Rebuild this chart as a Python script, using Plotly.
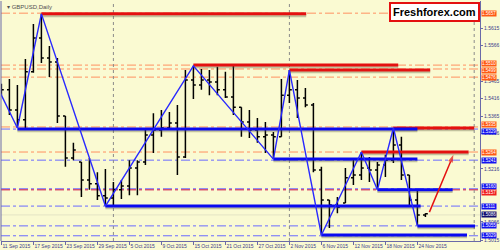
import plotly.graph_objects as go

# ---------------- data ----------------
bar_idx = list(range(54))
opens = [1.5434,1.5440,1.5383,1.5355,1.5491,1.5587,1.5530,1.5519,1.5366,1.5247,
         1.5236,1.5185,1.5174,1.5140,1.5134,1.5157,1.5168,1.5219,1.5236,1.5312,
         1.5326,1.5332,1.5346,1.5250,1.5468,1.5454,1.5468,1.5462,1.5440,1.5420,
         1.5391,1.5349,1.5326,1.5307,1.5312,1.5307,1.5425,1.5440,1.5417,1.5397,
         1.5213,1.5128,1.5114,1.5120,1.5191,1.5199,1.5219,1.5213,1.5227,1.5241,
         1.5284,1.5199,1.5128,1.5086]
highs = [1.5457,1.5471,1.5454,1.5527,1.5626,1.5655,1.5564,1.5530,1.5366,1.5290,
         1.5236,1.5247,1.5207,1.5216,1.5179,1.5185,1.5241,1.5241,1.5326,1.5374,
         1.5383,1.5377,1.5397,1.5496,1.5508,1.5499,1.5496,1.5505,1.5491,1.5508,
         1.5391,1.5383,1.5360,1.5349,1.5321,1.5471,1.5496,1.5468,1.5445,1.5403,
         1.5222,1.5128,1.5137,1.5219,1.5247,1.5264,1.5250,1.5236,1.5256,1.5329,
         1.5307,1.5199,1.5157,1.5091]
lows = [1.5423,1.5369,1.5332,1.5332,1.5488,1.5516,1.5476,1.5346,1.5222,1.5241,
        1.5137,1.5157,1.5128,1.5111,1.5111,1.5131,1.5142,1.5142,1.5227,1.5261,
        1.5307,1.5326,1.5199,1.5247,1.5414,1.5440,1.5425,1.5425,1.5417,1.5369,
        1.5307,1.5304,1.5290,1.5261,1.5244,1.5307,1.5403,1.5360,1.5391,1.5207,
        1.5029,1.5049,1.5091,1.5120,1.5171,1.5185,1.5179,1.5157,1.5193,1.5233,
        1.5185,1.5114,1.5057,1.5080]
closes = [1.5440,1.5383,1.5355,1.5491,1.5587,1.5530,1.5519,1.5366,1.5247,1.5270,
          1.5185,1.5174,1.5140,1.5134,1.5157,1.5168,1.5219,1.5236,1.5312,1.5326,
          1.5332,1.5346,1.5250,1.5468,1.5454,1.5468,1.5462,1.5440,1.5420,1.5391,
          1.5349,1.5326,1.5307,1.5312,1.5307,1.5425,1.5440,1.5417,1.5397,1.5213,
          1.5128,1.5114,1.5108,1.5191,1.5199,1.5219,1.5213,1.5227,1.5241,1.5284,
          1.5199,1.5128,1.5086,1.5089]

date_tick_idx = [0,4,8,12,16,20,24,28,32,36,40,44,48,52]
date_tick_text = ["11 Sep 2015","17 Sep 2015","23 Sep 2015","29 Sep 2015","5 Oct 2015",
                  "9 Oct 2015","15 Oct 2015","21 Oct 2015","27 Oct 2015","2 Nov 2015",
                  "6 Nov 2015","12 Nov 2015","18 Nov 2015","24 Nov 2015"]

price_ticks = [1.5615,1.5566,1.5465,1.5416,1.5365,1.5316,1.5216,1.5066,1.5015]
price_tick_text = ["1.5615","1.5566","1.5465","1.5416","1.5365","1.5316","1.5216","1.5066","1.5015"]

zz_idx = [-1, 2, 5, 13, 24, 34, 36, 40, 45, 47, 49, 52]
zz_price = [1.5471, 1.5332, 1.5655, 1.5111, 1.5508, 1.5244, 1.5496, 1.5029, 1.5264, 1.5157, 1.5332, 1.5055]

red_start = [5, 24, 36, 45, 49]
red_end = [38.1, 49.6, 53.6, 58.4, 59.1]
red_level = [1.5655, 1.5510, 1.5496, 1.5264, 1.5332]

blue_start = [2, 13, 34, 40, 47, 52]
blue_end = [52, 52.4, 52, 58.2, 56.4, 59.2]
blue_level = [1.5329, 1.5111, 1.5244, 1.5029, 1.5157, 1.5055]

orange_dd = [1.5657, 1.5510, 1.5499, 1.5476, 1.5335, 1.5264]
blue_dd = [1.5329, 1.5241, 1.5160, 1.5111, 1.5055, 1.5027]
red_dd = [1.5157]
gray_solid = [1.5086]

month_sep = [14, 36, 59.1]

label_price = [1.5657, 1.5510, 1.5499, 1.5476, 1.5335, 1.5329, 1.5264, 1.5241,
               1.5160, 1.5157, 1.5111, 1.5086, 1.5055, 1.5029]
label_color = ["#ff5a14", "#ff5a14", "#ff5a14", "#ff5a14", "#ff5a14", "#1414f0", "#ff5a14", "#1414f0",
               "#1414f0", "#f02020", "#1414f0", "#10106e", "#1414f0", "#1414f0"]

arrow_x = [53.5, 56.5]
arrow_y = [1.5094, 1.5256]

BG = "#fafad2"
AX = "#6a6aa8"
TXT = "#3c3c8c"

fig = go.Figure()

shapes = []
for v in orange_dd:
    shapes.append(dict(type="line", xref="paper", x0=0, x1=1, yref="y", y0=v, y1=v,
                       line=dict(color="#ff9060", width=1, dash="dashdot"), layer="below"))
for v in blue_dd:
    shapes.append(dict(type="line", xref="paper", x0=0, x1=1, yref="y", y0=v, y1=v,
                       line=dict(color="#6a6aff", width=1, dash="dashdot"), layer="below"))
for v in red_dd:
    shapes.append(dict(type="line", xref="paper", x0=0, x1=1, yref="y", y0=v, y1=v,
                       line=dict(color="#d01040", width=1, dash="dashdot"), layer="below"))
for v in gray_solid:
    shapes.append(dict(type="line", xref="paper", x0=0, x1=1, yref="y", y0=v, y1=v,
                       line=dict(color="#e4e4c4", width=1), layer="below"))
for xv in month_sep:
    shapes.append(dict(type="line", xref="x", x0=xv, x1=xv, yref="paper", y0=0, y1=1,
                       line=dict(color="#8a8a8a", width=1, dash="dot"), layer="below"))
shapes.append(dict(type="line", xref="paper", x0=0, x1=0, yref="paper", y0=0, y1=1,
                   line=dict(color=AX, width=1)))

fig.add_trace(go.Ohlc(x=bar_idx, open=opens, high=highs, low=lows, close=closes,
                      increasing=dict(line=dict(color="black", width=1.5)),
                      decreasing=dict(line=dict(color="black", width=1.5)),
                      tickwidth=0.3, hoverinfo="skip", showlegend=False))

SH = 0.0005
for xs, xe, v in zip(red_start, red_end, red_level):
    fig.add_trace(go.Scatter(x=[xs, xe], y=[v - SH, v - SH], mode="lines",
                             line=dict(color="rgba(90,90,60,0.35)", width=3), showlegend=False, hoverinfo="skip"))
    fig.add_trace(go.Scatter(x=[xs, xe], y=[v, v], mode="lines",
                             line=dict(color="#e41010", width=3), showlegend=False, hoverinfo="skip"))
for xs, xe, v in zip(blue_start, blue_end, blue_level):
    fig.add_trace(go.Scatter(x=[xs, xe], y=[v - SH, v - SH], mode="lines",
                             line=dict(color="rgba(90,90,60,0.35)", width=3), showlegend=False, hoverinfo="skip"))
    fig.add_trace(go.Scatter(x=[xs, xe], y=[v, v], mode="lines",
                             line=dict(color="#0a0af0", width=3), showlegend=False, hoverinfo="skip"))

fig.add_trace(go.Scatter(x=zz_idx, y=zz_price, mode="lines",
                         line=dict(color="#2828ff", width=1.4), showlegend=False, hoverinfo="skip"))

fig.add_trace(go.Scatter(x=arrow_x, y=arrow_y, mode="lines+markers",
                         line=dict(color="#e41010", width=1.5),
                         marker=dict(symbol=["circle", "arrow"], size=[0, 8], color="#e41010",
                                     angleref="previous", line=dict(width=0)),
                         showlegend=False, hoverinfo="skip"))

# nudge near-coincident price labels apart so both stay readable
label_shift = {1.5510: 1.5, 1.5499: -1.5, 1.5335: 2.5, 1.5329: -2.5, 1.5160: 2.5, 1.5157: -2.5}

annotations = []
for v, c in zip(label_price, label_color):
    annotations.append(dict(xref="paper", x=1, xanchor="left", xshift=1, yref="y", y=v,
                            yanchor="middle", yshift=label_shift.get(v, 0), text=f"{v:.4f}",
                            showarrow=False,
                            font=dict(family="Liberation Sans", size=4.5, color="white"),
                            bgcolor=c, borderpad=0))
annotations.append(dict(xref="paper", yref="paper", x=0.008, y=0.995, xanchor="left", yanchor="top",
                        text="▾ GBPUSD,Daily", showarrow=False,
                        font=dict(family="Liberation Sans", size=6, color="#505050")))
annotations.append(dict(xref="paper", yref="paper", x=0.904, y=0.954, xanchor="center", yanchor="middle",
                        text="<b>Freshforex.com</b>", showarrow=False,
                        font=dict(family="Liberation Sans", size=11, color="black"),
                        bgcolor="white", bordercolor="#e41010", borderwidth=2, borderpad=2))

fig.update_layout(
    width=500, height=250,
    margin=dict(l=1, r=20, t=1, b=9),
    paper_bgcolor=BG, plot_bgcolor=BG,
    shapes=shapes, annotations=annotations,
    showlegend=False,
    xaxis=dict(range=[-0.05, 59.825], tickvals=date_tick_idx, ticktext=date_tick_text,
               tickangle=0, ticks="outside", ticklen=3, tickcolor=AX, showline=True, linecolor=AX,
               showgrid=False, zeroline=False, rangeslider=dict(visible=False),
               ticklabelposition="outside right",
               tickfont=dict(family="Liberation Sans", size=5, color=TXT)),
    yaxis=dict(range=[1.50122, 1.56914], side="right", tickvals=price_ticks, ticktext=price_tick_text,
               ticks="outside", ticklen=2, tickcolor=AX, showline=True, linecolor=AX,
               showgrid=False, zeroline=False,
               tickfont=dict(family="Liberation Sans", size=5, color=TXT)),
)

fig.write_html("out.html")
